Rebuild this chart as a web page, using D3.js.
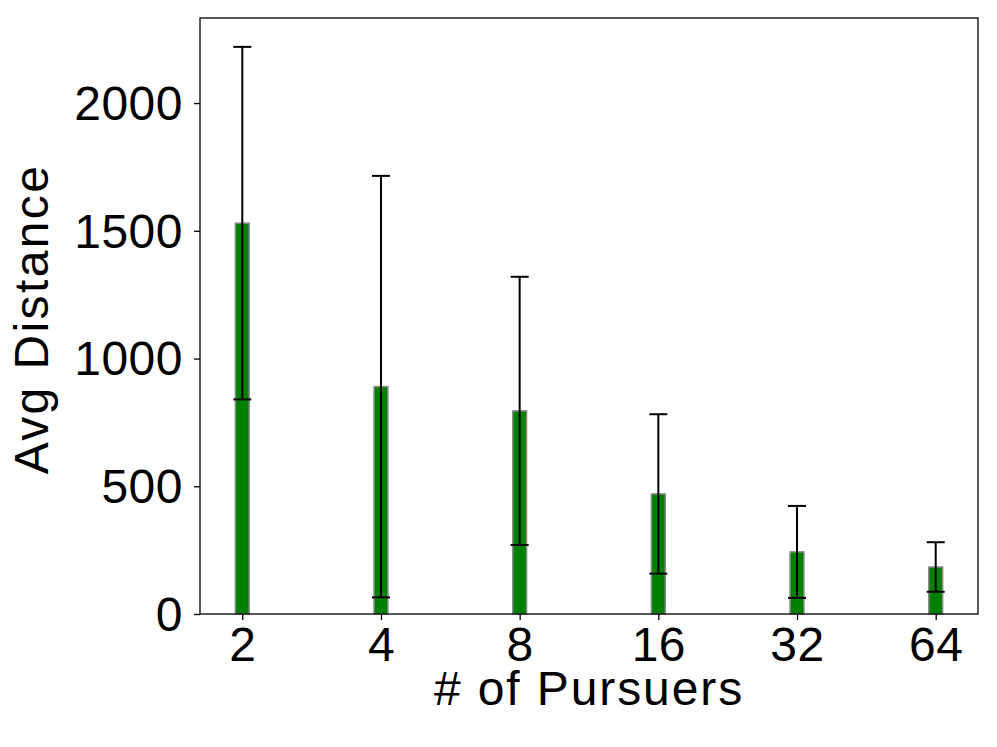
<!DOCTYPE html>
<html>
<head>
<meta charset="utf-8">
<script src="https://cdn.jsdelivr.net/npm/d3@7"></script>
<style>
body { margin: 0; background: #fff; }
text { font-family: "Liberation Sans", Arial, sans-serif; }
</style>
</head>
<body>
<script>
var categories = ["2", "4", "8", "16", "32", "64"];
var means = [1530, 890, 795, 470, 243, 184];
var stds = [690, 825, 525, 312, 180, 97];
var yTicks = [0, 500, 1000, 1500, 2000];

var W = 997, H = 747;
var margin = {top: 18, right: 19, bottom: 133, left: 200},
    w = W - margin.left - margin.right,
    h = H - margin.top - margin.bottom;

var svg = d3.select("body")
	.append("svg")
	.attr("width", W)
	.attr("height", H);

var g = svg.append("g")
	.attr("transform", "translate(" + margin.left + "," + margin.top + ")");

/*Scales*/
var xScale = d3.scaleLinear()
	.domain([-0.305, categories.length - 1 + 0.305])
	.range([0, w]);
var yScale = d3.scaleLinear()
	.domain([0, 2333])
	.range([h, 0]);
var barW = xScale(0.1) - xScale(0);

/*Bars*/
g.selectAll("rect.bar")
	.data(means)
	.enter()
	.append("rect")
	.attr("class", "bar")
	.attr("x", function(d, i) { return xScale(i) - barW / 2; })
	.attr("y", function(d) { return yScale(d); })
	.attr("width", barW)
	.attr("height", function(d) { return h - yScale(d); })
	.attr("fill", "#008000")
	.attr("stroke", "#8a8a8a")
	.attr("stroke-width", 1.5);

/*Error bars*/
var eb = g.selectAll("g.err")
	.data(means)
	.enter()
	.append("g")
	.attr("class", "err")
	.attr("stroke", "#000")
	.attr("stroke-width", 2);
eb.append("line")
	.attr("x1", function(d, i) { return xScale(i); })
	.attr("x2", function(d, i) { return xScale(i); })
	.attr("y1", function(d, i) { return yScale(d + stds[i]); })
	.attr("y2", function(d, i) { return yScale(d - stds[i]); });
[1, -1].forEach(function(s) {
	eb.append("line")
		.attr("x1", function(d, i) { return xScale(i) - 9; })
		.attr("x2", function(d, i) { return xScale(i) + 9; })
		.attr("y1", function(d, i) { return yScale(d + s * stds[i]); })
		.attr("y2", function(d, i) { return yScale(d + s * stds[i]); });
});

/*Axes*/
var xAxis = d3.axisBottom(xScale)
	.tickValues(d3.range(categories.length))
	.tickFormat(function(d) { return categories[d]; })
	.tickSizeInner(6).tickSizeOuter(0).tickPadding(7);
var yAxis = d3.axisLeft(yScale)
	.tickValues(yTicks)
	.tickFormat(d3.format("d"))
	.tickSizeInner(6).tickSizeOuter(0).tickPadding(11);

var gx = g.append("g")
	.attr("transform", "translate(0," + h + ")")
	.call(xAxis);
var gy = g.append("g").call(yAxis);
[gx, gy].forEach(function(a) {
	a.select(".domain").remove();
	a.selectAll("line").attr("stroke", "#000").attr("stroke-width", 1.3);
	a.selectAll("text")
		.attr("font-size", 48)
		.attr("fill", "#000")
		.style("letter-spacing", "0.5px")
		.style("font-family", "'Liberation Sans', Arial, sans-serif");
});
gy.selectAll("text").attr("dy", "0.34em");

/*Frame*/
g.append("rect")
	.attr("width", w)
	.attr("height", h)
	.attr("fill", "none")
	.attr("stroke", "#000")
	.attr("stroke-width", 1.3);

/*Labels*/
svg.append("text")
	.attr("x", margin.left + w / 2)
	.attr("y", 705)
	.attr("text-anchor", "middle")
	.attr("font-size", 48)
	.style("letter-spacing", "1.9px")
	.text("# of Pursuers");
svg.append("text")
	.attr("transform", "translate(48,319) rotate(-90)")
	.attr("text-anchor", "middle")
	.attr("font-size", 48)
	.style("letter-spacing", "2.4px")
	.text("Avg Distance");
</script>
</body>
</html>
